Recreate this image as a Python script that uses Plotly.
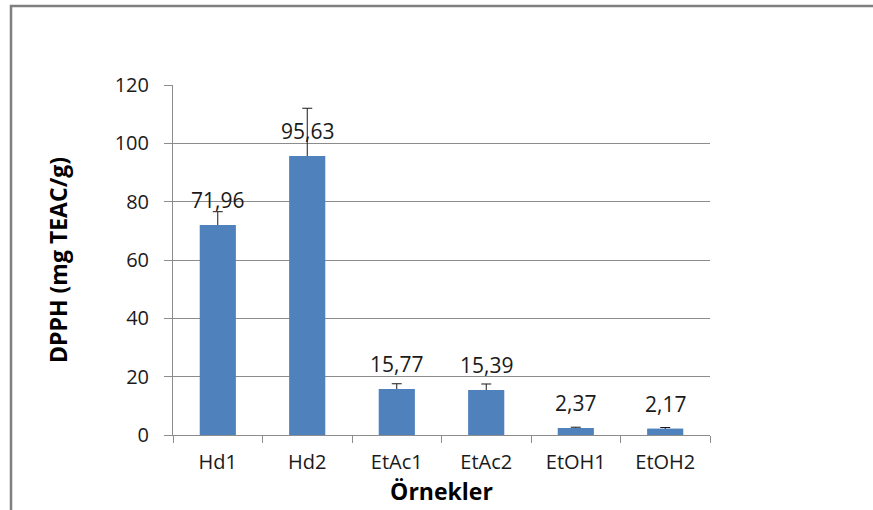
import plotly.graph_objects as go

categories = ["Hd1", "Hd2", "EtAc1", "EtAc2", "EtOH1", "EtOH2"]
values = [71.96, 95.63, 15.77, 15.39, 2.37, 2.17]
errors = [4.6, 16.4, 1.8, 2.1, 0.3, 0.4]
labels = ["71,96", "95,63", "15,77", "15,39", "2,37", "2,17"]
y_ticks = [0, 20, 40, 60, 80, 100, 120]

FONT = "Open Sans"
GRID = "#8c8c8c"
BAR = "#4F81BD"

fig = go.Figure()
# bars carrying the error bars (lower half hidden by the overlay bars below)
fig.add_trace(go.Bar(
    x=categories, y=values, width=0.4,
    marker=dict(color=BAR, line=dict(width=0)),
    error_y=dict(type="data", array=errors, symmetric=True,
                 color="#1a1a1a", thickness=1, width=5),
    hoverinfo="skip",
))
fig.add_trace(go.Bar(
    x=categories, y=values, width=0.4,
    marker=dict(color=BAR, line=dict(width=0)),
))
for c, v, t in zip(categories, values, labels):
    fig.add_annotation(x=c, y=v, text=t, showarrow=False, yshift=25,
                       font=dict(family=FONT, size=21, color="#1a1a1a"))

fig.update_layout(
    width=873, height=510,
    margin=dict(l=173, r=163, t=85, b=75),
    paper_bgcolor="white", plot_bgcolor="white",
    showlegend=False, barmode="overlay",
    font=dict(family=FONT, color="#1a1a1a"),
    xaxis=dict(
        type="category", tickson="boundaries", ticks="outside", ticklen=7, tickcolor=GRID,
        showline=True, linecolor=GRID, linewidth=1, showgrid=False,
        tickfont=dict(family=FONT, size=20, color="#1a1a1a"),
        ticklabelstandoff=9,
        title=dict(text="<b>Örnekler</b>", font=dict(family=FONT, size=23, color="#000"), standoff=1),
    ),
    yaxis=dict(
        range=[0, 120], tickvals=y_ticks, ticks="outside", ticklen=8, tickcolor=GRID,
        showline=True, linecolor=GRID, linewidth=1,
        showgrid=True, gridcolor=GRID, gridwidth=1, zeroline=False,
        tickfont=dict(family=FONT, size=20, color="#1a1a1a"),
        ticklabelstandoff=11,
        title=dict(text="<b>DPPH (mg TEAC/g)</b>", font=dict(family=FONT, size=23, color="#000"), standoff=40),
    ),
)
# chart area frame (cropped at right and bottom)
fig.add_shape(type="rect", xref="paper", yref="paper",
              x0=(11 - 173) / 537, x1=(890 - 173) / 537,
              y0=-(530 - 435) / 350, y1=(435 - 6) / 350,
              line=dict(color="#7f7f7f", width=2.5), fillcolor="rgba(0,0,0,0)", layer="below")

fig.write_html("out.html", config={"displayModeBar": False},
               post_script="document.body.style.margin='0';document.body.style.overflow='hidden';")
